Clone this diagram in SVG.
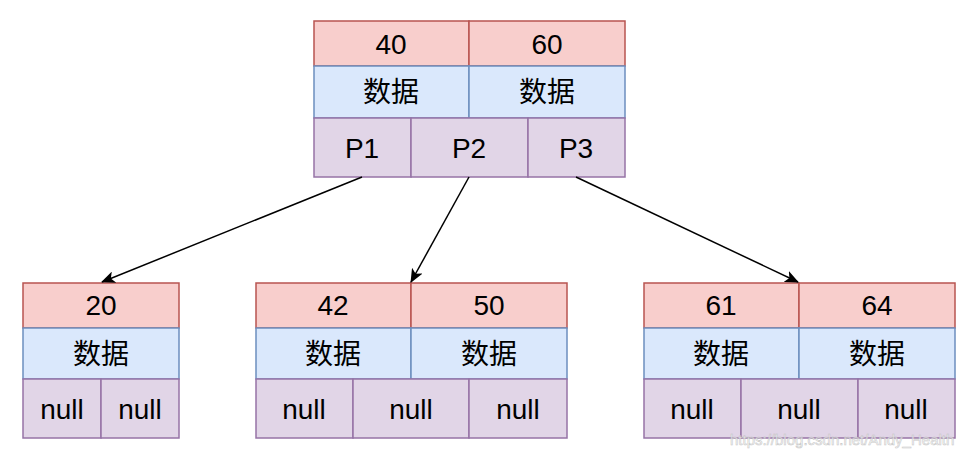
<svg xmlns="http://www.w3.org/2000/svg" width="976" height="453" viewBox="0 0 976 453">
<defs>
<style>
.r{fill:#f8cecc;stroke:#b85450;stroke-width:1.5}
.b{fill:#dae8fc;stroke:#6c8ebf;stroke-width:1.5}
.p{fill:#e1d5e7;stroke:#9673a6;stroke-width:1.5}
text{font-family:"Liberation Sans","Noto Sans CJK SC",sans-serif;font-size:28px;fill:#000;text-anchor:middle;dominant-baseline:central}
.e{stroke:#000;stroke-width:1.5;fill:none;marker-end:url(#ah)}
.wm{font-size:15px;fill:#fff;stroke:#bbb;stroke-width:0.6;text-anchor:start;opacity:0.8}
</style>
<marker id="ah" viewBox="0 0 14 12" refX="13" refY="6" markerWidth="14" markerHeight="12" markerUnits="userSpaceOnUse" orient="auto">
<path d="M0,0 L14,6 L0,12 L3.5,6 Z" fill="#000"/>
</marker>
</defs>
<rect width="976" height="453" fill="#fff"/>
<g id="root">
<rect class="r" x="314" y="21" width="155" height="45"/>
<rect class="r" x="469" y="21" width="156" height="45"/>
<rect class="b" x="314" y="66" width="155" height="52"/>
<rect class="b" x="469" y="66" width="156" height="52"/>
<rect class="p" x="314" y="118" width="97" height="59"/>
<rect class="p" x="411" y="118" width="117" height="59"/>
<rect class="p" x="528" y="118" width="97" height="59"/>
<text x="391" y="44">40</text><text x="547" y="44">60</text>
<text x="391" y="92">数据</text><text x="547" y="92">数据</text>
<text x="362" y="148">P1</text><text x="469" y="148">P2</text><text x="576" y="148">P3</text>
</g>
<g id="left">
<rect class="r" x="23" y="283" width="156" height="45"/>
<rect class="b" x="23" y="328" width="156" height="51"/>
<rect class="p" x="23" y="379" width="78" height="59"/>
<rect class="p" x="101" y="379" width="78" height="59"/>
<text x="101" y="305">20</text>
<text x="101" y="354">数据</text>
<text x="62" y="409">null</text><text x="140" y="409">null</text>
</g>
<g id="middle">
<rect class="r" x="256" y="283" width="155" height="45"/>
<rect class="r" x="411" y="283" width="156" height="45"/>
<rect class="b" x="256" y="328" width="155" height="51"/>
<rect class="b" x="411" y="328" width="156" height="51"/>
<rect class="p" x="256" y="379" width="97" height="59"/>
<rect class="p" x="353" y="379" width="116" height="59"/>
<rect class="p" x="469" y="379" width="98" height="59"/>
<text x="333" y="305">42</text><text x="489" y="305">50</text>
<text x="333" y="354">数据</text><text x="489" y="354">数据</text>
<text x="304" y="409">null</text><text x="411" y="409">null</text><text x="518" y="409">null</text>
</g>
<g id="right">
<rect class="r" x="644" y="283" width="155" height="45"/>
<rect class="r" x="799" y="283" width="156" height="45"/>
<rect class="b" x="644" y="328" width="155" height="51"/>
<rect class="b" x="799" y="328" width="156" height="51"/>
<rect class="p" x="644" y="379" width="97" height="59"/>
<rect class="p" x="741" y="379" width="117" height="59"/>
<rect class="p" x="858" y="379" width="97" height="59"/>
<text x="721" y="305">61</text><text x="877" y="305">64</text>
<text x="721" y="354">数据</text><text x="877" y="354">数据</text>
<text x="692" y="409">null</text><text x="799" y="409">null</text><text x="906" y="409">null</text>
</g>
<g id="connectors">
<line class="e" x1="362" y1="177" x2="102" y2="282"/>
<line class="e" x1="469" y1="177" x2="411" y2="282"/>
<line class="e" x1="576" y1="177" x2="798" y2="282"/>
</g>
<text class="wm" x="730" y="439">https://blog.csdn.net/Andy_Health</text>
</svg>
